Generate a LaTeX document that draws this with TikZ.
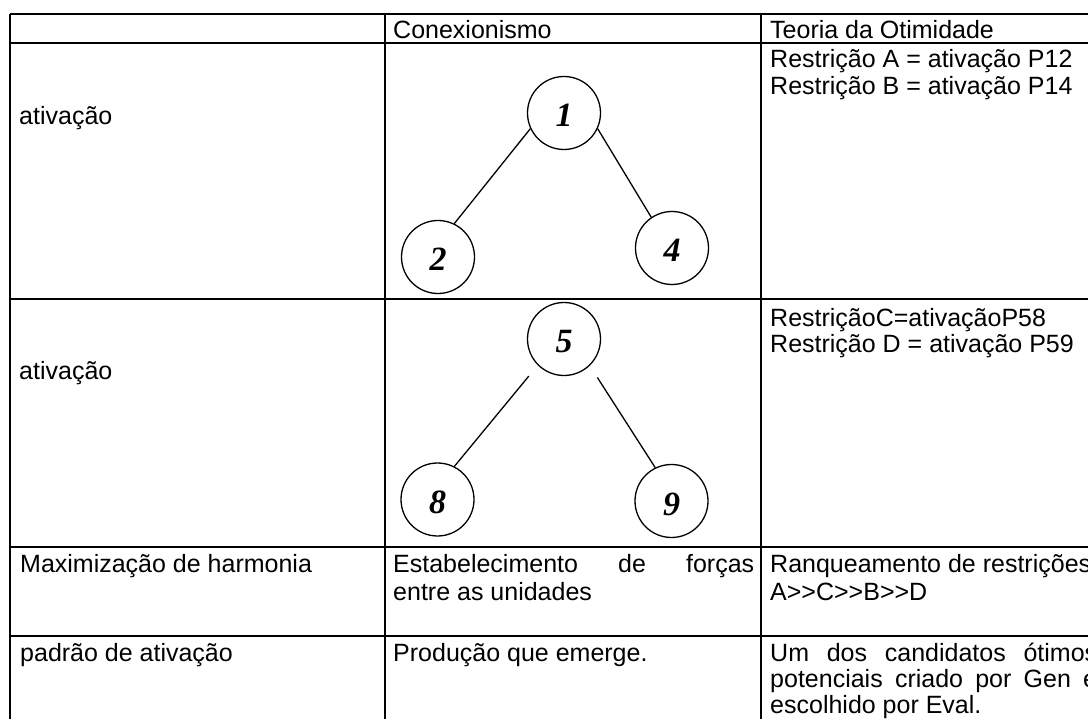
\documentclass[tikz,border=0pt]{standalone}
\usepackage{fontspec}
\setmainfont{Liberation Sans}
\newfontfamily\digitfont{Liberation Serif}
\begin{document}
\begin{tikzpicture}[x=1pt,y=-1pt,
  txt/.style={anchor=base west, inner sep=0pt, font=\fontsize{25}{30}\selectfont},
  unit/.style={circle, draw, line width=1.3pt, minimum size=73pt, inner sep=0pt,
    text height=28pt, text depth=0pt,
    font=\digitfont\bfseries\itshape\fontsize{34}{34}\selectfont},
  link/.style={line width=1.3pt},
  rulebold/.style={line width=2pt},
  rulethin/.style={line width=1.2pt}]
\useasboundingbox (0,0) rectangle (1088,719);
\clip (0,0) rectangle (1088,719);
% grid
\draw[rulebold] (10,14) -- (1100,14);
\draw[rulebold] (10,43) -- (1100,43);
\draw[rulebold] (10,299) -- (1100,299);
\draw[rulebold] (10,547) -- (1100,547);
\draw[rulethin] (10,636) -- (1100,636);
\draw[rulebold] (10,14) -- (10,730);
\draw[rulebold] (385,14) -- (385,730);
\draw[rulethin] (761,14) -- (761,730);
% header
\node[txt] (h2) at (393,38.5) {Conexionismo};
\node[txt] (h3) at (770,38.5) {Teoria da Otimidade};
% row 1
\node[txt] (a1) at (19,125) {ativação};
\node[txt] (r1a) at (770,68) {Restrição A = ativação P12};
\node[txt] (r1b) at (770,95) {Restrição B = ativação P14};
% row 2
\node[txt] (a2) at (19,380) {ativação};
\node[txt] (r2a) at (770,327) {RestriçãoC=ativaçãoP58};
\node[txt] (r2b) at (770,353) {Restrição D = ativação P59};
% row 3
\node[txt] (m1) at (20,572) {Maximização de harmonia};
\node[txt] (e1) at (393,572) {\makebox[361pt][s]{Estabelecimento de forças}};
\node[txt] (e2) at (393,600) {entre as unidades};
\node[txt] (q1) at (770,572) {Ranqueamento de restrições};
\node[txt] (q2) at (770,600) {A>{}>C>{}>B>{}>D};
% row 4
\node[txt] (p1) at (20,661) {padrão de ativação};
\node[txt] (p2) at (393,661) {Produção que emerge.};
\node[txt] (u1) at (770,661) {\makebox[327pt][s]{Um dos candidatos ótimos}};
\node[txt] (u2) at (770,687) {\makebox[327pt][s]{potenciais criado por Gen e}};
\node[txt] (u3) at (770,713) {escolhido por Eval.};
% networks
\node[unit] (n1) at (564,113) {1};
\node[unit] (n2) at (438,257) {2};
\node[unit] (n4) at (672,248) {4};
\node[unit] (n5) at (564,339) {5};
\node[unit] (n8) at (437.5,499.5) {8};
\node[unit] (n9) at (671.5,501) {9};
\draw[link] (n1.205) -- (n2.64);
\draw[link] (n1.335) -- (n4.124);
\draw[link, shorten <=14pt] (n5.225) -- (n8.63);
\draw[link, shorten <=14pt] (n5.314) -- (n9.116);
\end{tikzpicture}
\end{document}
